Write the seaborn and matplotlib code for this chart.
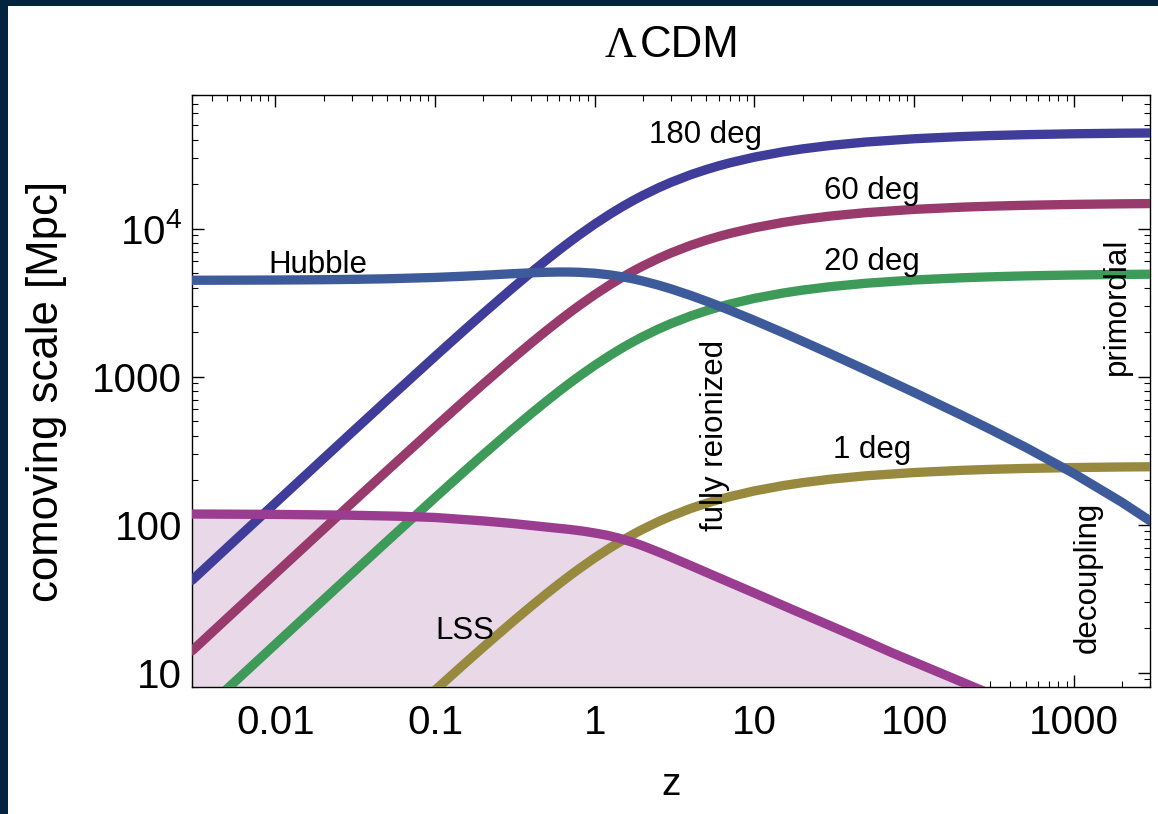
import matplotlib
matplotlib.use("Agg")
import matplotlib.pyplot as plt
import seaborn as sns
import pandas as pd
from matplotlib.ticker import FixedLocator, FixedFormatter, NullFormatter, LogLocator
from matplotlib.patches import Rectangle

# ---- data ----
z = [0.003, 0.005, 0.01, 0.02, 0.03, 0.05, 0.1, 0.15, 0.2, 0.3, 0.4, 0.5, 0.6, 0.7,
     0.8, 1, 1.25, 1.5, 1.75, 2, 2.5, 3, 4, 5, 6, 7, 10, 15, 20, 30, 50, 100, 200,
     300, 500, 1000, 2000, 3000]
deg180 = [42.1, 70.2, 140.2, 279.8, 418.8, 694.6, 1372, 2032, 2674, 3907, 5070,
          6166, 7198, 8168, 9080, 10748, 12575, 14163, 15555, 16784, 18865, 20556,
          23176, 25105, 26616, 27833, 30432, 33007, 34595, 36521, 38494, 40502,
          41925, 42547, 43162, 43759, 44149, 44306]
deg60 = [14.04, 23.40, 46.75, 93.27, 139.6, 231.5, 457.3, 677.3, 891.5, 1302, 1690,
         2055, 2399, 2723, 3027, 3583, 4192, 4721, 5185, 5595, 6288, 6852, 7725,
         8368, 8872, 9278, 10144, 11002, 11532, 12174, 12831, 13501, 13975, 14182,
         14387, 14586, 14716, 14769]
deg20 = [4.68, 7.80, 15.58, 31.09, 46.54, 77.18, 152.4, 225.8, 297.1, 434.1, 563.4,
         685.1, 799.7, 907.6, 1008.9, 1194, 1397, 1574, 1728, 1865, 2096, 2284,
         2575, 2789, 2957, 3093, 3381, 3668, 3844, 4058, 4277, 4500, 4658, 4727,
         4796, 4862, 4905, 4923]
deg1 = [0.234, 0.390, 0.779, 1.554, 2.327, 3.859, 7.62, 11.29, 14.86, 21.71, 28.17,
        34.26, 39.99, 45.38, 50.45, 59.71, 69.86, 78.68, 86.41, 93.24, 104.8, 114.2,
        128.8, 139.5, 147.9, 154.6, 169.1, 183.4, 192.2, 202.9, 213.9, 225.0, 232.9,
        236.4, 239.8, 243.1, 245.3, 246.1]
hubble = [4481, 4486, 4497, 4520, 4542, 4585, 4683, 4769, 4842, 4956, 5032, 5076,
          5093, 5090, 5071, 4998, 4868, 4722, 4572, 4426, 4155, 3917, 3532, 3235,
          3000, 2809, 2398, 1988, 1734, 1425, 1108, 782, 546.5, 440.5, 332.6, 221.6,
          141.6, 106.2]
lss_z = [0.003, 0.01, 0.03, 0.06, 0.1, 0.2, 0.3, 0.5, 0.7, 0.85, 1.0, 1.2, 1.4, 1.7,
         2.0, 2.5, 3, 4, 6, 10, 17, 30, 50, 73, 100, 150, 231, 300]
lss = [118, 117.3, 115.8, 114, 111.8, 106.0, 102, 96.3, 92.8, 90.3, 87.8, 84.7,
       81.3, 76.4, 71.9, 65.4, 60.3, 52.8, 43.7, 34.5, 26.9, 20.7, 16.3, 13.6, 11.8,
       9.83, 8.08, 7.18]

xticks = [0.01, 0.1, 1, 10, 100, 1000]
xticklabels = ["0.01", "0.1", "1", "10", "100", "1000"]
yticks = [10, 100, 1000, 10000]
yticklabels = ["10", "100", "1000", r"$\mathregular{10^4}$"]

# ---- style ----
sns.set_theme(style="ticks")
plt.rcParams["font.family"] = ["Liberation Sans", "DejaVu Sans"]
plt.rcParams["axes.linewidth"] = 1.0
plt.rcParams["axes.edgecolor"] = "black"
plt.rcParams["text.color"] = "black"
plt.rcParams["axes.labelcolor"] = "black"
plt.rcParams["xtick.color"] = "black"
plt.rcParams["ytick.color"] = "black"

c180 = "#403c9a"
c60 = "#993a6d"
c20 = "#3e9a58"
c1 = "#978a3e"
chub = "#3d5b9a"
clss = "#9a3c8f"
cfill = "#e8d8e8"
lw = 6.7

fig = plt.figure(figsize=(11.58, 8.14), dpi=100)
fig.patch.set_facecolor("white")
ax = fig.add_axes([192 / 1158, 127 / 814, 958 / 1158, 592 / 814])
ax.set_xscale("log")
ax.set_yscale("log")

df = pd.DataFrame({"z": z, "d180": deg180, "d60": deg60, "d20": deg20,
                   "d1": deg1, "hub": hubble})
dl = pd.DataFrame({"z": lss_z, "lss": lss})

ax.fill_between(dl["z"], dl["lss"], 1, color=cfill, lw=0, zorder=1)
for col, c in [("d180", c180), ("d60", c60), ("d20", c20), ("d1", c1), ("hub", chub)]:
    sns.lineplot(data=df, x="z", y=col, ax=ax, color=c, linewidth=lw,
                 estimator=None, sort=False, legend=False, zorder=3)
sns.lineplot(data=dl, x="z", y="lss", ax=ax, color=clss, linewidth=lw,
             estimator=None, sort=False, legend=False, zorder=4)

ax.set_xlim(0.003, 3000)
ax.set_ylim(8, 80000)

ax.xaxis.set_major_locator(FixedLocator(xticks))
ax.xaxis.set_major_formatter(FixedFormatter(xticklabels))
ax.yaxis.set_major_locator(FixedLocator(yticks))
ax.yaxis.set_major_formatter(FixedFormatter(yticklabels))
ax.xaxis.set_minor_locator(LogLocator(base=10, subs=range(2, 10), numticks=100))
ax.yaxis.set_minor_locator(LogLocator(base=10, subs=range(2, 10), numticks=100))
ax.xaxis.set_minor_formatter(NullFormatter())
ax.yaxis.set_minor_formatter(NullFormatter())
ax.tick_params(which="both", direction="in", top=True, right=True, colors="black")
ax.tick_params(which="major", length=8.5, width=1.0, labelsize=29)
ax.tick_params(axis="x", which="major", pad=12)
ax.tick_params(axis="y", which="major", pad=7)
ax.tick_params(which="minor", length=4, width=0.8)
for s in ax.spines.values():
    s.set_visible(True)
    s.set_color("black")
    s.set_linewidth(1.0)

ax.set_xlabel("z", fontsize=28, va="center", color="black")
ax.xaxis.set_label_coords(0.5, (687 - 785) / 592)
ax.set_ylabel("comoving scale [Mpc]", fontsize=31.5, va="center", color="black")
ax.yaxis.set_label_coords((47 - 192) / 958, 0.5)

fs = 22.5
kw = dict(transform=ax.transAxes, fontsize=fs, color="black")
ax.text(0.5355, 0.9189, "180 deg", ha="center", va="baseline", **kw)
ax.text(0.7098, 0.8243, "60 deg", ha="center", va="baseline", **kw)
ax.text(0.7098, 0.7044, "20 deg", ha="center", va="baseline", **kw)
ax.text(0.7098, 0.3868, "1 deg", ha="center", va="baseline", **kw)
ax.text(0.1315, 0.6993, "Hubble", ha="center", va="baseline", **kw)
ax.text(0.2850, 0.0811, "LSS", ha="center", va="baseline", **kw)
ax.text(0.5459, 0.4257, "fully reionized", ha="center", va="center", rotation=90, **kw)
ax.text(0.9656, 0.6436, "primordial", ha="center", va="center", rotation=90, **kw)
ax.text(0.9353, 0.1858, "decoupling", ha="center", va="center", rotation=90, **kw)

# title: serif Lambda + sans CDM
fig.text(636.7 / 1158, 1 - 57 / 814, "Λ", ha="right", va="baseline", fontsize=31.5,
         family=["Liberation Serif", "DejaVu Serif"], color="black")
fig.text(636.7 / 1158 + 3 / 1158, 1 - 57 / 814, "CDM", ha="left", va="baseline",
         fontsize=31.5, color="black")

# dark frame on top and left edges
fig.add_artist(Rectangle((0, 1 - 6 / 814), 1, 6 / 814, transform=fig.transFigure,
                         color="#02243f", lw=0, zorder=10))
fig.add_artist(Rectangle((0, 0), 8 / 1158, 1, transform=fig.transFigure,
                         color="#02243f", lw=0, zorder=10))

fig.savefig("out.png", dpi=100, facecolor="white")
